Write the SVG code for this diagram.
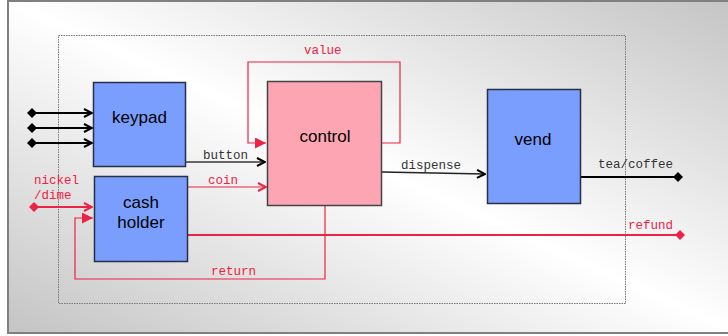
<svg xmlns="http://www.w3.org/2000/svg" width="728" height="336" viewBox="0 0 728 336">
<defs>
<linearGradient id="bg" x1="0" y1="1" x2="1" y2="0">
<stop offset="0" stop-color="#c4c4c4"/>
<stop offset="0.5" stop-color="#ffffff"/>
<stop offset="1" stop-color="#c4c4c4"/>
</linearGradient>
<marker id="chevK" viewBox="0 0 10 10" refX="9" refY="5" markerWidth="10" markerHeight="10" markerUnits="userSpaceOnUse" orient="auto">
<path d="M1,1 L9,5 L1,9" fill="none" stroke="#000" stroke-width="2"/>
</marker>
<marker id="chevR" viewBox="0 0 10 10" refX="9" refY="5" markerWidth="10" markerHeight="10" markerUnits="userSpaceOnUse" orient="auto">
<path d="M1,1 L9,5 L1,9" fill="none" stroke="#ee2244" stroke-width="2"/>
</marker>
<marker id="triR" viewBox="0 0 10 10" refX="10" refY="5" markerWidth="11" markerHeight="11" markerUnits="userSpaceOnUse" orient="auto">
<path d="M0,0 L10,5 L0,10 Z" fill="#ee2244"/>
</marker>
<marker id="diaK" viewBox="0 0 10 10" refX="5" refY="5" markerWidth="10" markerHeight="10" markerUnits="userSpaceOnUse" orient="auto">
<path d="M0,5 L5,0 L10,5 L5,10 Z" fill="#000"/>
</marker>
<marker id="diaR" viewBox="0 0 10 10" refX="5" refY="5" markerWidth="10" markerHeight="10" markerUnits="userSpaceOnUse" orient="auto">
<path d="M0,5 L5,0 L10,5 L5,10 Z" fill="#ee2244"/>
</marker>
</defs>
<style>
.node{fill:#7a9efe;stroke:#2a2f45;stroke-width:1.5}
.ctl{fill:#fea5b4;stroke:#444;stroke-width:1.5}
.nt{font-family:"Liberation Sans",Arial,sans-serif;font-size:17px;fill:#000;text-anchor:middle}
.lb{font-family:"Liberation Mono","Courier New",monospace;font-size:12.5px;fill:#333}
.lr{font-family:"Liberation Mono","Courier New",monospace;font-size:12.5px;fill:#ee2244}
.k{stroke:#000;fill:none;stroke-width:2}
.g{stroke:#666;fill:none;stroke-width:2}
.r{stroke:#ee2244;fill:none;stroke-width:1.2}
.r2{stroke:#ee2244;fill:none;stroke-width:2}
</style>
<rect x="0" y="0" width="728" height="336" fill="#ffffff"/>
<rect x="8" y="1" width="730" height="332" fill="url(#bg)" stroke="#808080" stroke-width="2"/>
<rect x="58.5" y="35.5" width="567" height="268" fill="none" stroke="#777" stroke-width="1" stroke-dasharray="1.5,1"/>

<g id="connectors">
<line class="k" x1="32" y1="113" x2="92" y2="113" marker-start="url(#diaK)" marker-end="url(#chevK)"/>
<line class="k" x1="32" y1="128" x2="92" y2="128" marker-start="url(#diaK)" marker-end="url(#chevK)"/>
<line class="k" x1="32" y1="143" x2="92" y2="143" marker-start="url(#diaK)" marker-end="url(#chevK)"/>
<line class="g" x1="186" y1="162" x2="265" y2="162" marker-end="url(#chevK)"/>
<text class="lb" x="203" y="159">button</text>
<line class="r" x1="188" y1="187" x2="266" y2="187" marker-end="url(#chevR)"/>
<text class="lr" x="208" y="184">coin</text>
<polyline class="r" points="382,143 400,143 400,62 248,62 248,143 266,143" marker-end="url(#triR)"/>
<text class="lr" x="304" y="54">value</text>
<polyline points="382,172 485,174" fill="none" stroke="#222" stroke-width="1.3" marker-end="url(#chevK)"/>
<text class="lb" x="401" y="169">dispense</text>
<line class="k" x1="581" y1="177" x2="678" y2="177" marker-end="url(#diaK)"/>
<text class="lb" x="598" y="168">tea/coffee</text>
<line class="r2" x1="188" y1="235" x2="680" y2="235" marker-end="url(#diaR)"/>
<text class="lr" x="628" y="229">refund</text>
<line class="r2" x1="34" y1="207" x2="92" y2="207" marker-start="url(#diaR)" marker-end="url(#chevR)"/>
<text class="lr" x="34" y="184">nickel</text>
<text class="lr" x="34" y="199">/dime</text>
<polyline class="r" points="325,206 325,279 75,279 75,218 93,218" marker-end="url(#triR)"/>
<text class="lr" x="211" y="275">return</text>
</g>

<g id="keypad">
<rect class="node" x="93.5" y="82.5" width="92" height="84"/>
<text class="nt" x="139.5" y="123">keypad</text>
</g>
<g id="cashholder">
<rect class="node" x="94.5" y="176.5" width="93" height="85"/>
<text class="nt" x="141" y="208">cash</text>
<text class="nt" x="141" y="228">holder</text>
</g>
<g id="control">
<rect class="ctl" x="267.5" y="81.5" width="114" height="124"/>
<text class="nt" x="325" y="142">control</text>
</g>
<g id="vend">
<rect class="node" x="487.5" y="89.5" width="93" height="114"/>
<text class="nt" x="533" y="145">vend</text>
</g>
</svg>
